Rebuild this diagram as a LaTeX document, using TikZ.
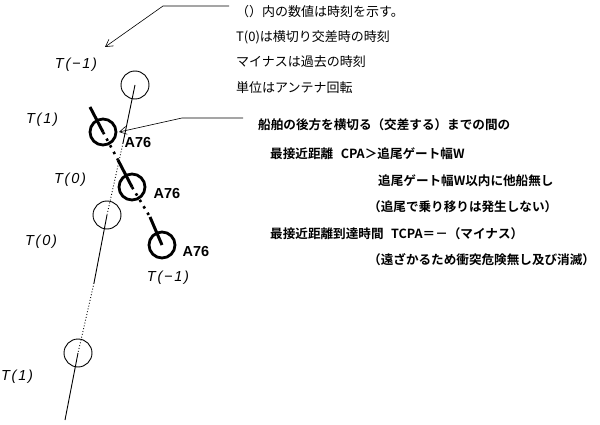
\documentclass[tikz,border=0pt]{standalone}
\usepackage{fontspec}
\setmainfont{Liberation Sans}
\newfontfamily\tfont{Liberation Sans}[LetterSpace=12]
\newfontfamily\jpfont{Noto Sans CJK JP}[BoldFont={Noto Sans CJK JP Bold}]
\usetikzlibrary{arrows.meta}

\begin{document}
\begin{tikzpicture}[x=1pt,y=-1pt,
	own/.style = {circle,draw,line width=0.9pt,minimum size=28pt,inner sep=0pt},
	tgt/.style = {circle,draw,line width=2.8pt,minimum size=26pt,inner sep=0pt},
	tlabel/.style = {font=\tfont\fontsize{14.5}{14.5}\selectfont\itshape},
	alabel/.style = {font=\fontsize{14.5}{14.5}\selectfont\bfseries},
	note/.style = {anchor=west,inner sep=0pt,font=\jpfont\fontsize{13}{13}\selectfont},
	bnote/.style = {anchor=west,inner sep=0pt,font=\jpfont\bfseries\fontsize{12.6}{12.6}\selectfont},
	leader/.style = {line width=0.6pt,-{Straight Barb[length=7pt,width=8pt]}}]

\useasboundingbox (0,0) rectangle (600,425);

% own ship track
\node[own] (o1) at (135,85) {};
\node[own] (o2) at (107,215) {};
\node[own] (o3) at (78,353) {};
\coordinate (s1) at (123,143);
\coordinate (s2) at (94,283);
\coordinate (oe) at (65,420);

\draw[line width=0.9pt] (o1.center) -- (s1);
\draw[line width=0.9pt,dotted] (s1) -- (o2.center);
\draw[line width=0.9pt] (o2.center) -- (s2);
\draw[line width=0.9pt,dotted] (s2) -- (o3.center);
\draw[line width=0.9pt] (o3.center) -- (oe);

% target A76
\node[tgt] (t1) at (103,132) {};
\node[tgt] (t2) at (132,187) {};
\node[tgt] (t3) at (162,245) {};
\coordinate (h1) at (90,107);
\coordinate (h2) at (118,160);
\coordinate (h3) at (150,217);
\foreach \h/\t in {h1/t1,h2/t2,h3/t3}
{
	\draw[line width=3pt] (\h) -- (\t.center);
};
\draw[line width=2.6pt,dash pattern=on 2.5pt off 5pt] (t1.center) -- (h2);
\draw[line width=2.6pt,dash pattern=on 2.5pt off 5pt] (t2.center) -- (h3);

\node[alabel] (a1) at (138,143) {A76};
\node[alabel] (a2) at (167,194) {A76};
\node[alabel] (a3) at (196,252) {A76};

% time labels
\node[tlabel] (l1) at (76,65) {T(−1)};
\node[tlabel] (l2) at (42,120) {T(1)};
\node[tlabel] (l3) at (70,180) {T(0)};
\node[tlabel] (l4) at (41,242) {T(0)};
\node[tlabel] (l5) at (17,377) {T(1)};
\node[tlabel] (l6) at (168,278) {T(−1)};

% notes
\node[note] (n1) at (236,12) {（）内の数値は時刻を示す。};
\node[note] (n2) at (236,37) {T(0)は横切り交差時の時刻};
\node[note] (n3) at (236,62) {マイナスは過去の時刻};
\node[note] (n4) at (236,88) {単位はアンテナ回転};
\node[bnote] (n5) at (258,125) {船舶の後方を横切る（交差する）までの間の};
\node[bnote] (n6) at (270,154) {最接近距離\hspace{0.6em}CPA＞追尾ゲート幅W};
\node[bnote] (n7) at (378,181) {追尾ゲート幅W以内に他船無し};
\node[bnote] (n8) at (368,207) {（追尾で乗り移りは発生しない）};
\node[bnote] (n9) at (270,234) {最接近距離到達時間\hspace{0.6em}TCPA＝－（マイナス）};
\node[bnote] (n10) at (368,260) {（遠ざかるため衝突危険無し及び消滅）};

% leaders
\coordinate (k1) at (229,6);
\coordinate (k2) at (163,6);
\coordinate (p1) at (105,47);
\coordinate (k3) at (243,118);
\coordinate (k4) at (182,118);
\coordinate (p2) at (119,132);
\draw[leader] (k1) -- (k2) -- (p1);
\draw[leader] (k3) -- (k4) -- (p2);
\end{tikzpicture}
\end{document}
